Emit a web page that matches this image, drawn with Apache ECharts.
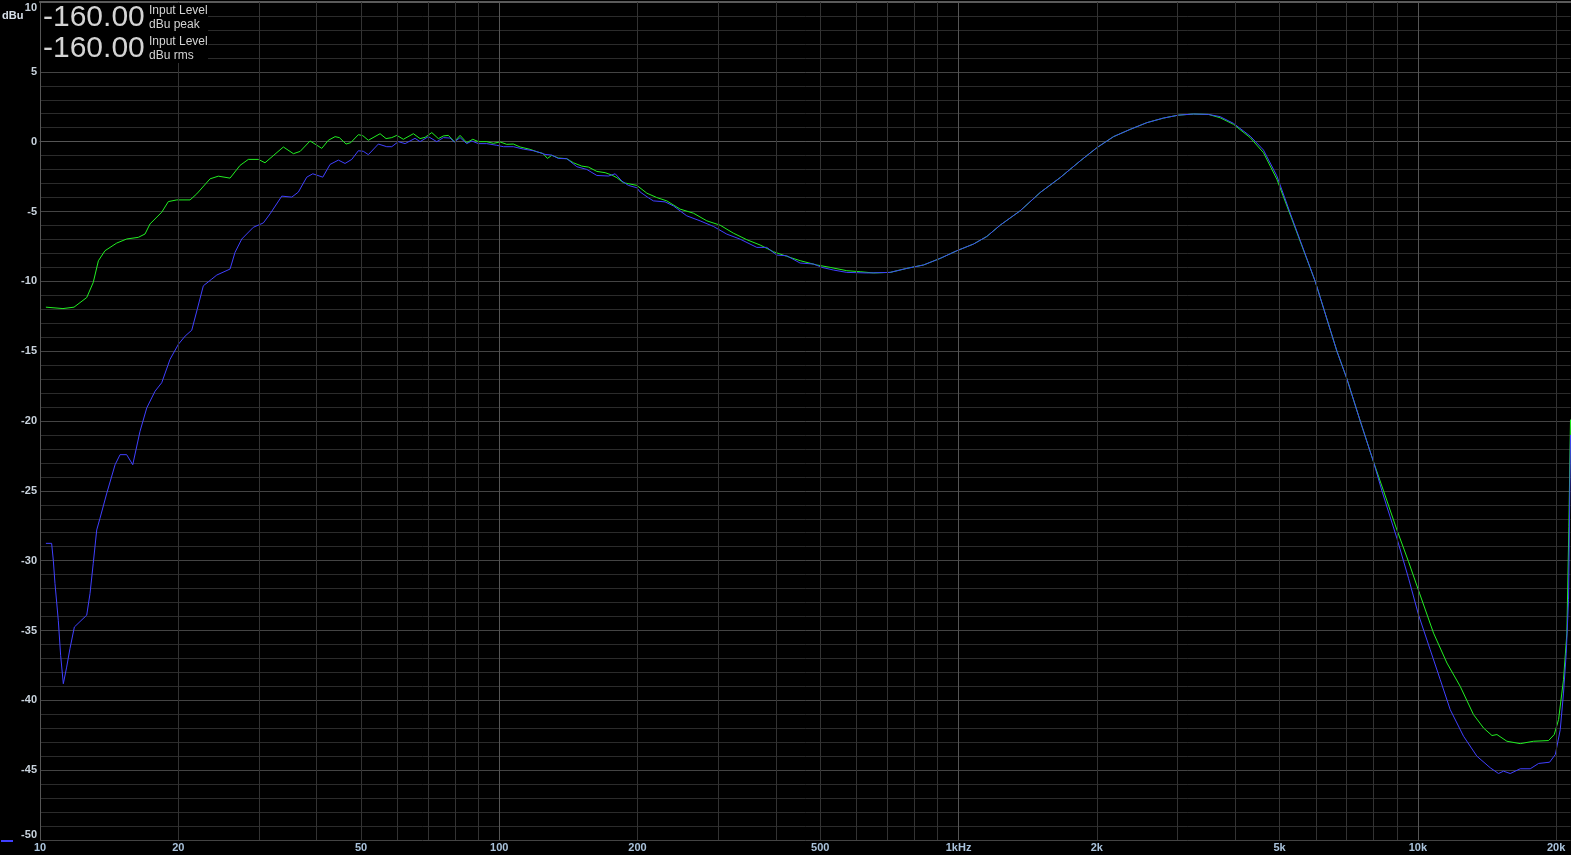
<!DOCTYPE html>
<html>
<head>
<meta charset="utf-8">
<script src="https://cdn.jsdelivr.net/npm/echarts@6/dist/echarts.min.js"></script>
<style>
html,body{margin:0;padding:0;background:#000;}
#chart{width:1571px;height:855px;}
</style>
</head>
<body>
<div id="chart"></div>
<script>
// ---- data (frequency in Hz, level in dBu) ----
const greenFreq = [10.30,11.22,11.86,12.64,13.06,13.40,13.85,14.69,15.44,16.37,16.93,17.36,18.41,19.03,19.85,21.22,21.94,23.46,24.45,25.93,27.26,28.42,29.88,30.90,33.88,35.62,36.84,38.73,41.07,42.45,43.90,44.86,46.39,47.49,49.34,50.44,51.87,55.01,56.69,58.33,59.82,61.83,65.01,67.23,68.94,71.29,73.69,75.56,77.48,79.84,82.15,84.96,87.56,90.05,93.93,97.09,100.4,103.8,107.3,111.0,116.7,120.7,124.4,127.3,130.1,134.5,140.3,145.0,151.2,156.4,163.1,170.0,175.8,180.3,186.4,199.3,209.6,220.3,231.6,247.6,264.7,283.1,302.6,323.4,345.9,369.8,395.3,422.7,451.9,491.3,525.3,571.2,610.6,652.6,709.6,771.9,838.8,911.7,991.5,1078,1152,1232,1362,1506,1665,1840,2001,2175,2364,2570,2794,3012,3248,3502,3713,3969,4315,4613,4933,5319,5978,6665,7008,7492,8009,8420,9005,9545,10085,10821,11572,12369,13220,13902,14503,14869,15631,16711,17860,19260,19817,20250,20760,21112,21323,21500];
const greenDb = [-11.85,-11.95,-11.85,-11.16,-10.08,-8.53,-7.81,-7.26,-6.97,-6.85,-6.61,-5.89,-5.05,-4.29,-4.17,-4.17,-3.74,-2.66,-2.47,-2.61,-1.70,-1.27,-1.27,-1.51,-0.38,-0.86,-0.70,0.05,-0.48,0.10,0.36,0.29,-0.17,-0.07,0.50,0.43,0.10,0.57,0.22,0.29,0.45,0.17,0.57,0.22,0.31,0.65,0.22,0.41,0.45,0.00,0.45,-0.07,0.17,0.00,0.00,-0.12,-0.02,-0.19,-0.17,-0.38,-0.55,-0.72,-0.84,-1.20,-0.98,-1.17,-1.22,-1.51,-1.75,-1.82,-2.13,-2.22,-2.39,-2.58,-2.94,-3.13,-3.69,-4.00,-4.24,-4.83,-5.12,-5.67,-5.98,-6.55,-7.02,-7.40,-7.88,-8.21,-8.52,-8.83,-9.00,-9.24,-9.31,-9.40,-9.36,-9.07,-8.83,-8.36,-7.81,-7.33,-6.79,-5.98,-4.95,-3.64,-2.57,-1.38,-0.43,0.36,0.88,1.36,1.69,1.90,1.98,1.95,1.71,1.24,0.29,-0.79,-2.69,-5.55,-10.00,-15.00,-16.98,-20.00,-22.93,-25.00,-27.80,-30.07,-32.33,-35.19,-37.33,-39.00,-41.02,-41.98,-42.52,-42.45,-42.93,-43.10,-42.93,-42.88,-42.45,-41.38,-38.52,-35.19,-27.57,-19.90];

const blueFreq = [10.30,10.60,10.69,10.78,10.96,11.09,11.24,11.43,11.62,11.88,12.64,12.85,13.06,13.29,13.51,13.98,14.57,14.94,15.44,15.92,16.51,17.08,17.80,18.41,19.19,20.01,20.70,21.40,22.00,22.68,23.66,24.26,25.93,26.59,27.50,29.14,30.64,31.69,33.61,35.34,36.52,38.09,39.26,41.28,42.81,44.64,46.15,47.73,49.34,50.58,51.87,54.55,56.89,58.33,60.30,62.37,65.55,67.23,70.08,73.10,75.56,78.14,79.84,82.15,84.96,87.12,90.05,93.93,98.74,102.1,107.3,112.8,118.7,122.7,125.8,130.1,134.5,140.3,147.5,155.1,163.1,172.9,178.8,184.9,191.0,199.3,202.6,211.3,216.6,229.6,239.4,256.0,273.7,292.6,312.9,334.5,363.7,382.4,402.0,422.7,451.9,483.1,504.0,534.0,571.2,631.3,709.6,771.9,838.8,911.7,991.5,1078,1152,1232,1362,1506,1665,1840,2001,2175,2364,2570,2794,3012,3248,3502,3713,3969,4315,4613,4933,5319,5978,6665,7008,7492,8009,8352,9005,9545,10035,10641,11190,11764,12576,13447,14377,14987,15368,15894,16711,17571,18320,19360,19924,20423,20760,21045,21288,21500];
const blueDb = [-28.76,-28.76,-29.96,-31.63,-34.27,-36.78,-38.81,-37.62,-36.30,-34.75,-33.90,-32.35,-30.19,-27.80,-26.96,-25.16,-23.13,-22.41,-22.41,-23.13,-20.74,-19.06,-17.87,-17.26,-15.59,-14.51,-13.92,-13.50,-12.00,-10.32,-9.84,-9.55,-9.12,-7.92,-6.97,-6.13,-5.82,-5.17,-3.90,-3.97,-3.61,-2.54,-2.30,-2.54,-1.63,-1.32,-1.56,-1.27,-0.65,-0.69,-0.93,-0.17,-0.36,-0.36,0.00,-0.14,0.24,0.00,0.36,0.00,0.29,0.26,-0.02,0.29,-0.14,0.05,-0.14,-0.14,-0.26,-0.36,-0.36,-0.53,-0.65,-0.79,-0.91,-0.96,-1.20,-1.22,-1.79,-1.99,-2.42,-2.46,-2.30,-2.82,-3.13,-3.30,-3.60,-4.02,-4.24,-4.31,-4.60,-5.31,-5.67,-6.07,-6.62,-6.98,-7.57,-7.57,-8.12,-8.17,-8.69,-8.76,-9.00,-9.19,-9.36,-9.40,-9.36,-9.07,-8.83,-8.36,-7.81,-7.33,-6.79,-5.98,-4.95,-3.64,-2.57,-1.38,-0.43,0.36,0.88,1.36,1.69,1.90,1.98,1.95,1.79,1.31,0.40,-0.60,-2.45,-5.45,-10.00,-15.00,-16.98,-20.00,-22.93,-25.00,-28.40,-31.26,-33.88,-36.38,-38.52,-40.67,-42.57,-44.00,-44.83,-45.24,-45.07,-45.24,-44.90,-44.90,-44.52,-44.43,-43.88,-42.10,-39.48,-36.62,-32.80,-21.00];

const xLabelValues = [10,20,50,100,200,500,1000,2000,5000,10000,20000];
const xGridValues = [20,30,40,50,60,70,80,90,100,200,300,400,500,600,700,800,900,1000,2000,3000,4000,5000,6000,7000,8000,9000,10000,20000];
const decadeValues = [100,1000,10000];
const yMin = -50, yMax = 10, yStep = 5;
const xMin = 10, xMax = 21500;

// ---- chart ----
const zip = (a,b) => a.map((v,i)=>[v,b[i]]);
const chart = echarts.init(document.getElementById('chart'), null, {renderer:'canvas'});
const fontFam = 'Arial, "Liberation Sans", sans-serif';

const gridLines = xGridValues.map(v => ({
  xAxis: v,
  lineStyle: {color: decadeValues.includes(v) ? '#555555' : '#333333', width: 1, type: 'solid'}
}));

const fmtX = v => {
  if (v === 1000) return '1kHz';
  if (v >= 1000) return (v/1000) + 'k';
  return String(v);
};

chart.setOption({
  backgroundColor: '#000000',
  animation: false,
  grid: {left: 40, right: 0.5, top: 2, bottom: 15, containLabel: false},
  xAxis: [{
    type: 'log', logBase: 10, min: xMin, max: xMax,
    axisLine: {show: true, lineStyle: {color: '#555555', width: 1}},
    axisTick: {show: false},
    splitLine: {show: false},
    axisLabel: {
      show: true, customValues: xLabelValues, formatter: v => fmtX(Math.round(v)),
      color: '#aac3dc', fontWeight: 'bold', fontSize: 11, fontFamily: fontFam, margin: 2,
      showMinLabel: true, showMaxLabel: true
    }
  },{
    type: 'log', logBase: 10, min: xMin, max: xMax, position: 'top',
    axisLine: {show: true, onZero: false, lineStyle: {color: '#5a5a5a', width: 2}},
    axisTick: {show: false}, splitLine: {show: false}, axisLabel: {show: false}
  }],
  yAxis: {
    type: 'value', min: yMin, max: yMax, interval: yStep,
    axisLine: {show: true, onZero: false, lineStyle: {color: '#555555', width: 1}},
    axisTick: {show: false},
    splitLine: {show: true, lineStyle: {color: '#444444', width: 1}},
    minorTick: {show: false, splitNumber: 5},
    minorSplitLine: {show: true, lineStyle: {color: '#2b2b2b', width: 1}},
    axisLabel: {
      color: '#c8d2dc', fontWeight: 'bold', fontSize: 11, fontFamily: fontFam, margin: 3,
      verticalAlignMaxLabel: 'top', verticalAlignMinLabel: 'bottom'
    }
  },
  series: [
    {
      type: 'line', name: 'grid', data: [], z: 1, silent: true,
      markLine: {silent: true, symbol: ['none','none'], label: {show: false}, animation: false, data: gridLines}
    },
    {
      type: 'line', name: 'peak', data: zip(greenFreq, greenDb), showSymbol: false, symbol: 'none',
      lineStyle: {color: '#22ee22', width: 1}, z: 3, silent: true
    },
    {
      type: 'line', name: 'rms', data: zip(blueFreq, blueDb), showSymbol: false, symbol: 'none',
      lineStyle: {color: '#4040ff', width: 1}, z: 4, silent: true
    }
  ],
  graphic: [
    {type: 'rect', z: 100, shape: {x: 41, y: 3, width: 167, height: 60}, style: {fill: '#000000'}},
    {type: 'text', z: 101, x: 43, y: 18, style: {text: '-160.00', fill: '#d4d4d4', font: '30px ' + fontFam, textVerticalAlign: 'middle'}},
    {type: 'text', z: 101, x: 43, y: 49, style: {text: '-160.00', fill: '#d4d4d4', font: '30px ' + fontFam, textVerticalAlign: 'middle'}},
    {type: 'text', z: 101, x: 149, y: 11, style: {text: 'Input Level', fill: '#d4d4d4', font: '12px ' + fontFam, textVerticalAlign: 'middle'}},
    {type: 'text', z: 101, x: 149, y: 25, style: {text: 'dBu peak', fill: '#d4d4d4', font: '12px ' + fontFam, textVerticalAlign: 'middle'}},
    {type: 'text', z: 101, x: 149, y: 42, style: {text: 'Input Level', fill: '#d4d4d4', font: '12px ' + fontFam, textVerticalAlign: 'middle'}},
    {type: 'text', z: 101, x: 149, y: 56, style: {text: 'dBu rms', fill: '#d4d4d4', font: '12px ' + fontFam, textVerticalAlign: 'middle'}},
    {type: 'text', z: 101, x: 2, y: 16, style: {text: 'dBu', fill: '#d8e0ea', font: 'bold 11px ' + fontFam, textVerticalAlign: 'middle'}},
    {type: 'rect', z: 101, shape: {x: 1, y: 840, width: 12, height: 2}, style: {fill: '#4040ff'}}
  ]
});
</script>
</body>
</html>
